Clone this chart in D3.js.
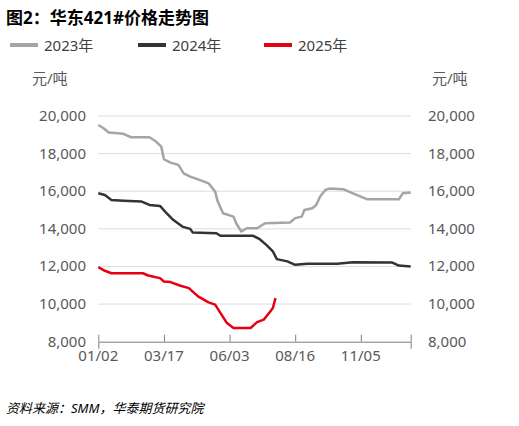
<!DOCTYPE html><html><head><meta charset="utf-8">
<script src="https://cdn.jsdelivr.net/npm/d3@7"></script>
<style>body{margin:0;background:#fff}svg{font-family:"Noto Sans","Noto Sans CJK SC",sans-serif}</style></head><body>
<svg id="c" width="519" height="426"></svg>
<script>
const xTickIdx=[0,50,100,150,200];
const xTickLabels=["01/02","03/17","06/03","08/16","11/05"];
const yTicks=[8000,10000,12000,14000,16000,18000,20000];
const s2023=[[0,19520],[4,19350],[8,19120],[19,19050],[25,18870],[39,18870],[44,18640],[48,18370],[50,17700],[55,17520],[61,17400],[65,16950],[70,16780],[77,16600],[84,16420],[89,15980],[91,15450],[95,14830],[103,14650],[105,14300],[109,13860],[113,14030],[121,14030],[127,14300],[146,14340],[150,14570],[155,14650],[157,15000],[163,15100],[166,15270],[169,15720],[173,16070],[176,16140],[187,16100],[194,15890],[205,15570],[229,15570],[232,15890],[238,15930]];
const s2024=[[0,15890],[5,15800],[10,15540],[19,15500],[33,15450],[39,15270],[47,15220],[52,14830],[57,14480],[64,14120],[70,14000],[72,13800],[90,13770],[93,13630],[118,13630],[123,13450],[128,13150],[133,12800],[136,12390],[144,12270],[150,12090],[159,12140],[182,12140],[194,12230],[224,12210],[229,12050],[238,12000]];
const s2025=[[0,11960],[5,11770],[10,11640],[34,11640],[38,11520],[47,11380],[50,11200],[55,11170],[62,10990],[69,10850],[76,10410],[84,10090],[89,9970],[94,9430],[98,8990],[103,8730],[116,8730],[121,9040],[126,9170],[131,9610],[133,9790],[135,10320]];
const series=[{name:"2023年",data:s2023,color:"#a5a5a5"},{name:"2024年",data:s2024,color:"#333333"},{name:"2025年",data:s2025,color:"#e60012"}];
const svg=d3.select("#c");
const x=d3.scaleLinear().domain([0,238]).range([98.3,410.7]);
const y=d3.scaleLinear().domain([8000,20000]).range([341.7,116]);
svg.append("text").attr("x",6).attr("y",24).attr("font-size",17).attr("font-weight","bold").attr("fill","#000").text("图2：华东421#价格走势图");
series.forEach((s,i)=>{const lx=[10,138,264][i];
 svg.append("line").attr("x1",lx).attr("x2",lx+28).attr("y1",45).attr("y2",45).attr("stroke",s.color).attr("stroke-width",4);
 svg.append("text").attr("x",lx+34).attr("y",51).attr("font-size",15).attr("fill","#404040").text(s.name);});
svg.append("text").attr("x",32).attr("y",84).attr("font-size",15).attr("fill","#595959").text("元/吨");
svg.append("text").attr("x",432).attr("y",84).attr("font-size",15).attr("fill","#595959").text("元/吨");
svg.append("g").selectAll("line").data(yTicks.slice(1)).join("line").attr("x1",98.3).attr("x2",410.7).attr("y1",d=>y(d)).attr("y2",d=>y(d)).attr("stroke","#d9dcea").attr("stroke-width",1);
const fmt=d3.format(",");
svg.append("g").selectAll("text").data(yTicks).join("text").attr("x",86).attr("y",d=>y(d)+5).attr("text-anchor","end").attr("font-size",15).attr("fill","#595959").text(fmt);
svg.append("g").selectAll("text").data(yTicks).join("text").attr("x",428).attr("y",d=>y(d)+5).attr("font-size",15).attr("fill","#595959").text(fmt);
const ax=svg.append("g").attr("transform","translate(0,341.7)").call(d3.axisBottom(x).tickValues(xTickIdx.concat([238])).tickFormat(()=>"").tickSizeOuter(0).tickSize(7));
ax.select(".domain").attr("stroke","#7f7f7f");ax.selectAll(".tick line").attr("stroke","#7f7f7f").attr("transform","translate(0,-7)");
svg.append("g").selectAll("text").data(xTickIdx).join("text").attr("x",d=>x(d)).attr("y",361).attr("text-anchor","middle").attr("font-size",15).attr("fill","#595959").text((d,i)=>xTickLabels[i]);
const line=d3.line().x(d=>x(d[0])).y(d=>y(d[1]));
series.forEach(s=>svg.append("path").attr("d",line(s.data)).attr("fill","none").attr("stroke",s.color).attr("stroke-width",2.5).attr("stroke-linejoin","round"));
svg.append("text").attr("x",6).attr("y",413).attr("font-size",13).attr("font-style","italic").attr("fill","#000").text("资料来源：SMM，华泰期货研究院");
</script></body></html>
